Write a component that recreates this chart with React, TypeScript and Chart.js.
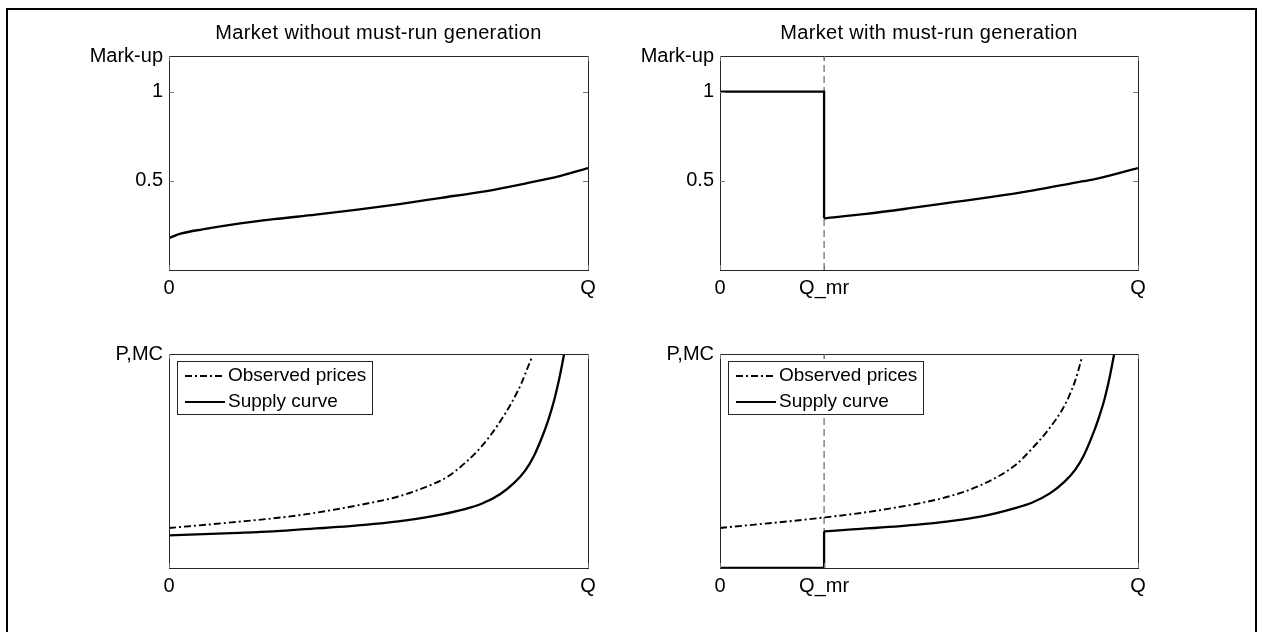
import React, { useEffect, useRef } from 'react';
import { Chart, registerables } from 'chart.js';

Chart.register(...registerables);

const FONT = '"Liberation Sans", Arial, Helvetica, sans-serif';

// ---------- axis ticks ----------
const qMr = 0.249;
const qTicksPlain = [0, 1];
const qTickLabelsPlain = ['0', 'Q'];
const qTicksMr = [0, qMr, 1];
const qTickLabelsMr = ['0', 'Q_mr', 'Q'];
const markupTicks = [0.5, 1];
const markupTickLabels = ['0.5', '1'];
const noTicks: number[] = [];
const noTickLabels: string[] = [];
const markupRange = [0, 1.2];
const priceRange = [0, 1];

// ---------- titles / labels ----------
const titlePlain = 'Market without must-run generation';
const titleMr = 'Market with must-run generation';
const markupLabel = 'Mark-up';
const priceLabel = 'P,MC';
const observedName = 'Observed prices';
const supplyName = 'Supply curve';

// ---------- top-left: mark-up, no must-run ----------
const markupPlainX = [0, 0.03, 0.08, 0.15, 0.25, 0.35, 0.45, 0.55, 0.65, 0.75, 0.85, 0.93, 1];
const markupPlainY = [0.18, 0.205, 0.228, 0.255, 0.285, 0.31, 0.338, 0.37, 0.405, 0.44, 0.485, 0.525, 0.572];

// ---------- top-right: mark-up, with must-run ----------
const markupMrStepX = [0, qMr, qMr];
const markupMrStepY = [1, 1, 0.29];
const markupMrX = [qMr, 0.35, 0.45, 0.558, 0.65, 0.75, 0.85, 0.897, 1];
const markupMrY = [0.29, 0.315, 0.345, 0.38, 0.41, 0.447, 0.49, 0.51, 0.572];

// ---------- bottom-left: prices, no must-run ----------
const supplyPlainX = [0, 0.149, 0.249, 0.308, 0.467, 0.547, 0.626, 0.706, 0.746, 0.79, 0.825, 0.85, 0.87, 0.89, 0.905, 0.92, 0.932, 0.943];
const supplyPlainY = [0.152, 0.163, 0.171, 0.179, 0.202, 0.218, 0.241, 0.275, 0.3, 0.345, 0.4, 0.455, 0.52, 0.61, 0.69, 0.79, 0.89, 1.0];
const observedPlainX = [0, 0.149, 0.308, 0.467, 0.547, 0.626, 0.666, 0.706, 0.746, 0.785, 0.817, 0.841, 0.857, 0.866];
const observedPlainY = [0.187, 0.213, 0.246, 0.299, 0.334, 0.389, 0.428, 0.49, 0.568, 0.669, 0.77, 0.863, 0.941, 0.984];

// ---------- bottom-right: prices, with must-run ----------
const supplyMrStepX = [0, qMr, qMr];
const supplyMrStepY = [0, 0, 0.171];
const supplyMrX = [qMr, 0.308, 0.467, 0.547, 0.626, 0.706, 0.746, 0.79, 0.825, 0.85, 0.87, 0.89, 0.905, 0.92, 0.932, 0.943];
const supplyMrY = [0.171, 0.179, 0.202, 0.218, 0.241, 0.28, 0.305, 0.35, 0.405, 0.46, 0.525, 0.615, 0.695, 0.79, 0.89, 1.0];
const observedMrX = [0, 0.249, 0.388, 0.547, 0.626, 0.706, 0.745, 0.785, 0.825, 0.849, 0.866];
const observedMrY = [0.187, 0.236, 0.272, 0.334, 0.389, 0.48, 0.555, 0.645, 0.762, 0.871, 0.984];

const DASH_DOT = [7, 3, 2, 3];
const X_AXIS_H = 40;

const pts = (xs: number[], ys: number[]) => xs.map((x, i) => ({ x, y: ys[i] }));

const curve = (label: string, xs: number[], ys: number[], extra: any = {}) => ({
  label,
  data: pts(xs, ys),
  borderColor: '#000',
  backgroundColor: '#000',
  borderWidth: 2.3,
  pointRadius: 0,
  pointHoverRadius: 0,
  fill: false,
  cubicInterpolationMode: 'monotone',
  borderJoinStyle: 'round',
  ...extra,
});

const step = (label: string, xs: number[], ys: number[]) => ({
  label,
  data: pts(xs, ys),
  borderColor: '#000',
  backgroundColor: '#000',
  borderWidth: 2.3,
  pointRadius: 0,
  pointHoverRadius: 0,
  fill: false,
  tension: 0,
  borderJoinStyle: 'miter',
});

const guide = (range: number[]) => ({
  label: 'Q_mr',
  data: pts([qMr, qMr], range),
  borderColor: '#4a4a4a',
  borderWidth: 1,
  borderDash: [7, 4],
  pointRadius: 0,
  pointHoverRadius: 0,
  fill: false,
  tension: 0,
});

type Panel = {
  key: string;
  left: number;
  top: number;
  width: number;
  height: number;
  area: { l: number; t: number; r: number; b: number };
  title?: string;
  yLabel: string;
  xTicks: number[];
  xLabels: string[];
  yTicks: number[];
  yLabels: string[];
  yRange: number[];
  datasets: any[];
  legend?: { label: string; dash: number[]; width: number }[];
};

const legendItems = [
  { label: observedName, dash: DASH_DOT, width: 1.8 },
  { label: supplyName, dash: [] as number[], width: 2.2 },
];

const panels: Panel[] = [
  {
    key: 'tl', left: 0, top: 0, width: 631, height: 315,
    area: { l: 169, t: 56, r: 588, b: 270 },
    title: titlePlain, yLabel: markupLabel,
    xTicks: qTicksPlain, xLabels: qTickLabelsPlain,
    yTicks: markupTicks, yLabels: markupTickLabels, yRange: markupRange,
    datasets: [curve('Mark-up', markupPlainX, markupPlainY)],
  },
  {
    key: 'tr', left: 631, top: 0, width: 632, height: 315,
    area: { l: 89, t: 56, r: 507, b: 270 },
    title: titleMr, yLabel: markupLabel,
    xTicks: qTicksMr, xLabels: qTickLabelsMr,
    yTicks: markupTicks, yLabels: markupTickLabels, yRange: markupRange,
    datasets: [
      step('Mark-up (must-run)', markupMrStepX, markupMrStepY),
      curve('Mark-up', markupMrX, markupMrY),
      guide(markupRange),
    ],
  },
  {
    key: 'bl', left: 0, top: 315, width: 631, height: 317,
    area: { l: 169, t: 39, r: 588, b: 253 },
    yLabel: priceLabel,
    xTicks: qTicksPlain, xLabels: qTickLabelsPlain,
    yTicks: noTicks, yLabels: noTickLabels, yRange: priceRange,
    datasets: [
      curve(observedName, observedPlainX, observedPlainY, { borderDash: DASH_DOT, borderWidth: 1.9 }),
      curve(supplyName, supplyPlainX, supplyPlainY),
    ],
    legend: legendItems,
  },
  {
    key: 'br', left: 631, top: 315, width: 632, height: 317,
    area: { l: 89, t: 39, r: 507, b: 253 },
    yLabel: priceLabel,
    xTicks: qTicksMr, xLabels: qTickLabelsMr,
    yTicks: noTicks, yLabels: noTickLabels, yRange: priceRange,
    datasets: [
      curve(observedName, observedMrX, observedMrY, { borderDash: DASH_DOT, borderWidth: 1.9 }),
      step(supplyName + ' (must-run)', supplyMrStepX, supplyMrStepY),
      curve(supplyName, supplyMrX, supplyMrY),
      guide(priceRange),
    ],
    legend: legendItems,
  },
];

const decor = (p: Panel) => ({
  id: 'decor_' + p.key,
  afterDraw(chart: any) {
    const { ctx, chartArea: a, scales } = chart;
    const line = (x1: number, y1: number, x2: number, y2: number) => {
      ctx.beginPath();
      ctx.moveTo(x1, y1);
      ctx.lineTo(x2, y2);
      ctx.stroke();
    };
    ctx.save();
    ctx.setLineDash([]);
    // axes box
    ctx.strokeStyle = '#262626';
    ctx.lineWidth = 1;
    ctx.strokeRect(Math.round(a.left) + 0.5, Math.round(a.top) + 0.5, Math.round(a.right - a.left), Math.round(a.bottom - a.top));
    // inner tick marks
    ctx.strokeStyle = '#777';
    const tl = 5;
    p.yTicks.forEach((v) => {
      const y = Math.round(scales.y.getPixelForValue(v)) + 0.5;
      line(a.left, y, a.left + tl, y);
      line(a.right - tl, y, a.right, y);
    });
    p.xTicks.forEach((v) => {
      const x = Math.round(scales.x.getPixelForValue(v)) + 0.5;
      line(x, a.bottom, x, a.bottom - tl);
      line(x, a.top, x, a.top + tl);
    });
    // title
    ctx.fillStyle = '#000';
    if (p.title) {
      ctx.font = `20px ${FONT}`;
      ctx.textAlign = 'center';
      ctx.textBaseline = 'middle';
      (ctx as any).letterSpacing = '0.35px';
      ctx.fillText(p.title, (a.left + a.right) / 2, 33);
      (ctx as any).letterSpacing = '0px';
    }
    // y label at top-left corner
    ctx.font = `20px ${FONT}`;
    ctx.textAlign = 'right';
    ctx.textBaseline = 'alphabetic';
    ctx.fillText(p.yLabel, a.left - 6, a.top + 6);
    // legend
    if (p.legend) {
      const bx = Math.round(a.left) + 8;
      const by = Math.round(a.top) + 7;
      const bw = 195;
      const bh = 53;
      ctx.fillStyle = '#fff';
      ctx.fillRect(bx, by, bw, bh);
      ctx.strokeStyle = '#262626';
      ctx.lineWidth = 1;
      ctx.strokeRect(bx + 0.5, by + 0.5, bw, bh);
      p.legend.forEach((item, i) => {
        const y = by + 15 + i * 26;
        ctx.strokeStyle = '#000';
        ctx.lineWidth = item.width;
        ctx.setLineDash(item.dash);
        line(bx + 8, y, bx + 48, y);
        ctx.setLineDash([]);
        ctx.font = `19px ${FONT}`;
        ctx.fillStyle = '#000';
        ctx.textAlign = 'left';
        ctx.textBaseline = 'middle';
        ctx.fillText(item.label, bx + 51, y);
      });
    }
    ctx.restore();
  },
});

function PanelChart({ p }: { p: Panel }) {
  const ref = useRef<HTMLCanvasElement>(null);
  useEffect(() => {
    const canvas = ref.current;
    if (!canvas) return;
    const chart = new Chart(canvas, {
      type: 'line',
      data: { datasets: p.datasets },
      options: {
        responsive: false,
        maintainAspectRatio: false,
        animation: false,
        devicePixelRatio: 1,
        events: [],
        layout: {
          padding: { left: 0, top: p.area.t, right: p.width - p.area.r, bottom: p.height - p.area.b - X_AXIS_H },
        },
        plugins: {
          legend: { display: false },
          tooltip: { enabled: false },
          title: { display: false },
        },
        elements: { point: { radius: 0, hoverRadius: 0 } },
        scales: {
          x: {
            type: 'linear',
            min: 0,
            max: 1,
            afterBuildTicks: (s: any) => {
              s.ticks = p.xTicks.map((v) => ({ value: v }));
            },
            afterFit: (s: any) => {
              s.height = X_AXIS_H;
            },
            ticks: {
              autoSkip: false,
              maxRotation: 0,
              minRotation: 0,
              padding: 6,
              color: '#000',
              font: { family: FONT, size: 20 },
              callback: (_v: any, i: number) => p.xLabels[i],
            },
            grid: { display: false, drawTicks: false },
            border: { display: false },
          },
          y: {
            type: 'linear',
            min: p.yRange[0],
            max: p.yRange[1],
            afterBuildTicks: (s: any) => {
              s.ticks = p.yTicks.map((v) => ({ value: v }));
            },
            afterFit: (s: any) => {
              s.width = p.area.l;
            },
            ticks: {
              display: p.yTicks.length > 0,
              autoSkip: false,
              padding: 6,
              color: '#000',
              font: { family: FONT, size: 20 },
              callback: (_v: any, i: number) => p.yLabels[i],
            },
            grid: { display: false, drawTicks: false },
            border: { display: false },
          },
        },
      } as any,
      plugins: [decor(p)],
    });
    return () => chart.destroy();
  }, [p]);
  return (
    <canvas
      ref={ref}
      width={p.width}
      height={p.height}
      style={{ position: 'absolute', left: p.left, top: p.top, width: p.width, height: p.height }}
    />
  );
}

export default function App() {
  return (
    <div style={{ position: 'fixed', left: 0, top: 0, width: 1263, height: 632, background: '#fff', overflow: 'hidden' }}>
      <div
        style={{
          position: 'absolute',
          left: 6,
          top: 8,
          width: 1251,
          height: 640,
          border: '2px solid #000',
          borderBottom: 'none',
          boxSizing: 'border-box',
        }}
      />
      {panels.map((p) => (
        <PanelChart key={p.key} p={p} />
      ))}
    </div>
  );
}
